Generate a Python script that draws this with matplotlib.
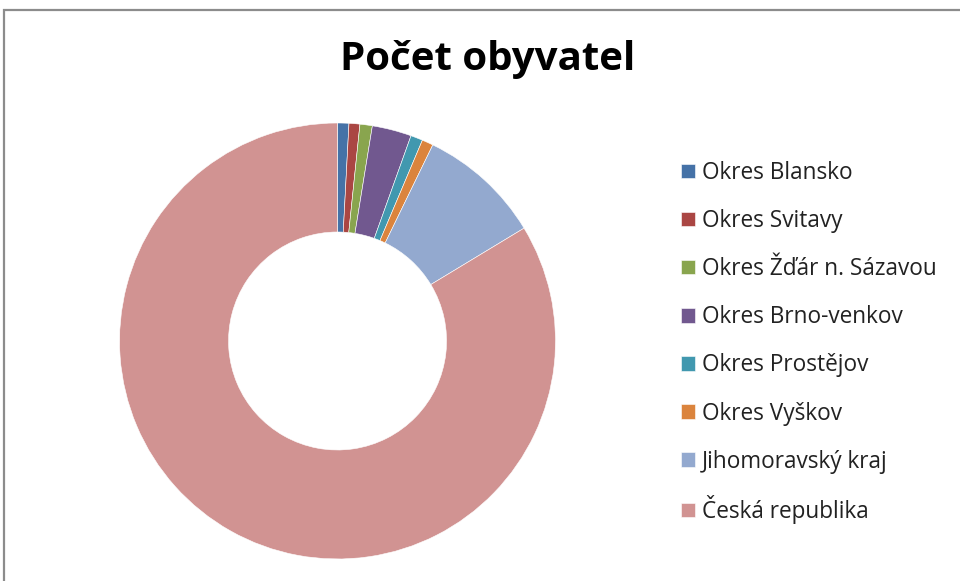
import matplotlib
matplotlib.use("Agg")
import matplotlib.pyplot as plt
from matplotlib.patches import Rectangle

# data
labels = ["Okres Blansko", "Okres Svitavy", "Okres Žďár n. Sázavou", "Okres Brno-venkov",
          "Okres Prostějov", "Okres Vyškov", "Jihomoravský kraj", "Česká republika"]
values = [105000, 101000, 115000, 366000, 112000, 105000, 1148000, 10505000]
colors = ["#4572A7", "#AA4643", "#89A54E", "#71588F", "#4198AF", "#DB843D", "#93A9CF", "#D19392"]

plt.rcParams['font.family'] = ['Open Sans', 'DejaVu Sans']

fig = plt.figure(figsize=(9.6, 5.81), dpi=100)
ax = fig.add_axes([0.1245, 0.0379, 0.4542, 0.7504])

wedges, _ = ax.pie(values, colors=colors, startangle=90, counterclock=False,
                   radius=1, wedgeprops=dict(width=0.5, edgecolor='white', linewidth=0.4))
ax.set_xlim(-1, 1)
ax.set_ylim(-1, 1)
ax.set_aspect('equal')

fig.text(488/960, 1 - 70/581, "Počet obyvatel", ha='center', va='baseline',
         fontsize=29, fontweight='bold', color='black')

# one legend per row so the rows stay evenly spaced despite accents
for i, (w, lab) in enumerate(zip(wedges, labels)):
    leg = fig.legend([w], [lab], loc='center left',
                     bbox_to_anchor=(681/960, 1 - (173 + i*48.1)/581),
                     frameon=False, fontsize=16.3, handlelength=0.6, handleheight=0.6,
                     handletextpad=0.33, borderpad=0, borderaxespad=0)
    leg.get_texts()[0].set_color('#222222')

# outer chart frame (only top and left visible)
fig.add_artist(Rectangle((4/960, -0.1), 1.2, 1.1 - 10/581, transform=fig.transFigure,
                         fill=False, edgecolor='#8c8c8c', linewidth=1.6))

fig.savefig("out.png", dpi=100)
